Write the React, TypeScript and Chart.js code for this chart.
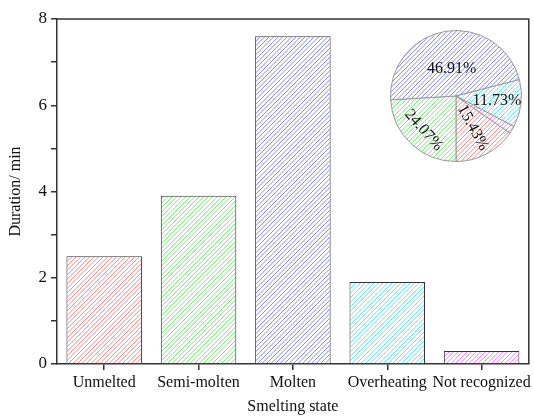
import React, { useEffect, useRef } from "react";
import { Chart, registerables } from "chart.js";

Chart.register(...registerables);

const categories = ["Unmelted", "Semi-molten", "Molten", "Overheating", "Not recognized"];
const durations = [2.5, 3.9, 7.6, 1.9, 0.3];
const yTicks = [0, 2, 4, 6, 8];
const hatchColors = ["#f28a8a", "#7ee47e", "#8888f0", "#66e4e4", "#f084f0"];
// label placement inside pie slices: radius fraction and text rotation (deg)
const pieLabelStyle = [
  { r: 0.55, rot: 62, show: true },
  { r: 0.72, rot: 49, show: true },
  { r: 0.42, rot: 0, show: true },
  { r: 0.63, rot: 0, show: true },
  { r: 0.6, rot: 0, show: false },
];

const FONT = "'Liberation Serif', 'Times New Roman', serif";

function hatch(ctx: CanvasRenderingContext2D, color: string) {
  const s = 9;
  const c = document.createElement("canvas");
  c.width = s;
  c.height = s;
  const g = c.getContext("2d")!;
  g.fillStyle = "#ffffff";
  g.fillRect(0, 0, s, s);
  g.strokeStyle = color;
  g.lineWidth = 1;
  g.beginPath();
  for (const k of [0, 4.5, 9, 13.5, 18]) {
    g.moveTo(k - 10, 10);
    g.lineTo(k + 10, -10);
  }
  g.stroke();
  return ctx.createPattern(c, "repeat")!;
}

const framePlugin = {
  id: "frame",
  afterDraw(chart: any) {
    const { ctx, chartArea } = chart;
    ctx.save();
    ctx.strokeStyle = "#333";
    ctx.lineWidth = 1.5;
    ctx.beginPath();
    ctx.moveTo(chartArea.left, chartArea.top);
    ctx.lineTo(chartArea.right, chartArea.top);
    ctx.lineTo(chartArea.right, chartArea.bottom);
    ctx.stroke();
    ctx.restore();
  },
};

const pieLabelPlugin = {
  id: "pieLabels",
  afterDatasetsDraw(chart: any) {
    const { ctx } = chart;
    const meta = chart.getDatasetMeta(0);
    const data = chart.data.datasets[0].data as number[];
    const total = data.reduce((a, b) => a + b, 0);
    ctx.save();
    ctx.fillStyle = "#111";
    ctx.font = `16px ${FONT}`;
    ctx.textAlign = "center";
    ctx.textBaseline = "middle";
    meta.data.forEach((arc: any, i: number) => {
      const st = pieLabelStyle[i];
      if (!st.show) return;
      const p = arc.getProps(["x", "y", "startAngle", "endAngle", "outerRadius"], true);
      const mid = (p.startAngle + p.endAngle) / 2;
      const x = p.x + Math.cos(mid) * p.outerRadius * st.r;
      const y = p.y + Math.sin(mid) * p.outerRadius * st.r;
      const txt = ((data[i] / total) * 100).toFixed(2) + "%";
      ctx.save();
      ctx.translate(x, y);
      ctx.rotate((st.rot * Math.PI) / 180);
      ctx.fillText(txt, 0, 0);
      ctx.restore();
    });
    ctx.restore();
  },
};

export default function App() {
  const barRef = useRef<HTMLCanvasElement>(null);
  const pieRef = useRef<HTMLCanvasElement>(null);

  useEffect(() => {
    const bctx = barRef.current!.getContext("2d")!;
    const pctx = pieRef.current!.getContext("2d")!;
    const total = durations.reduce((a, b) => a + b, 0);

    const bar = new Chart(bctx, {
      type: "bar",
      data: {
        labels: categories,
        datasets: [
          {
            data: durations,
            backgroundColor: hatchColors.map((c) => hatch(bctx, c)),
            borderColor: "#333",
            borderWidth: 1,
            barPercentage: 0.8,
            categoryPercentage: 1,
          },
        ],
      },
      options: {
        responsive: false,
        animation: false,
        devicePixelRatio: 1,
        layout: { padding: { left: 0, top: 19, right: 3, bottom: 0 } },
        plugins: { legend: { display: false }, tooltip: { enabled: false } },
        scales: {
          x: {
            offset: true,
            grid: { display: true, drawOnChartArea: false, offset: false, tickLength: 6, color: "#333", lineWidth: 1.5 },
            border: { display: true, color: "#333", width: 1.5 },
            ticks: { color: "#111", font: { family: FONT, size: 16 }, padding: 3, maxRotation: 0, autoSkip: false },
            title: { display: true, text: "Smelting state", color: "#111", font: { family: FONT, size: 16 }, padding: { top: 2, bottom: 4 } },
            afterFit: (s: any) => {
              s.height = 56;
            },
          },
          y: {
            min: 0,
            max: 8,
            grid: { display: true, drawOnChartArea: false, tickLength: 6, color: "#333", lineWidth: 1.5 },
            border: { display: true, color: "#333", width: 1.5 },
            ticks: {
              stepSize: 1,
              color: "#111",
              font: { family: FONT, size: 17 },
              padding: 4,
              callback: (v: any) => (yTicks.includes(Number(v)) ? String(v) : ""),
            },
            title: { display: true, text: "Duration/ min", color: "#111", font: { family: FONT, size: 16 }, padding: { top: 6, bottom: 0 } },
            afterFit: (s: any) => {
              s.width = 57;
            },
          },
        },
      },
      plugins: [framePlugin],
    });

    const pie = new Chart(pctx, {
      type: "pie",
      data: {
        labels: categories,
        datasets: [
          {
            data: durations,
            backgroundColor: hatchColors.map((c) => hatch(pctx, c)),
            borderColor: "#999",
            borderWidth: 1,
          },
        ],
      },
      options: {
        responsive: false,
        animation: false,
        devicePixelRatio: 1,
        rotation: 180 - (360 * durations[0]) / total,
        layout: { padding: 0 },
        plugins: { legend: { display: false }, tooltip: { enabled: false } },
      },
      plugins: [pieLabelPlugin],
    });

    return () => {
      bar.destroy();
      pie.destroy();
    };
  }, []);

  return (
    <div style={{ position: "fixed", left: 0, top: 0, width: 534, height: 420, background: "#fff" }}>
      <canvas ref={barRef} width={534} height={420} style={{ position: "absolute", left: 0, top: 0 }} />
      <canvas ref={pieRef} width={132} height={132} style={{ position: "absolute", left: 390, top: 30 }} />
    </div>
  );
}
